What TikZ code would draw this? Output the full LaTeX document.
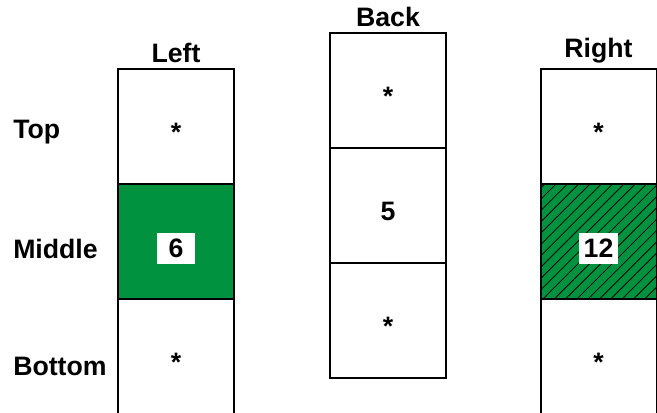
\documentclass[tikz,border=0pt]{standalone}
\usepackage{fontspec}
\setmainfont{Liberation Sans}
\usetikzlibrary{positioning,patterns.meta}
\definecolor{cellgreen}{RGB}{0,146,63}

\begin{document}
\begin{tikzpicture}[
        x=0.75pt, y=-0.75pt,
        font=\fontsize{20}{24}\selectfont\bfseries,
        cell/.style={
          draw,
          line width=1.5pt,
          outer sep=0pt,
          minimum width=87pt,
          minimum height=86.25pt,
          text height=23pt,
          text depth=0pt
        },
        greencell/.style={cell, fill=cellgreen},
        hatchcell/.style={
          cell,
          preaction={fill=cellgreen},
          pattern={Lines[angle=45,distance=6pt,line width=0.6pt]},
          pattern color=black
        },
        numbox/.style={
          fill=white,
          inner sep=0pt,
          minimum width=29pt,
          minimum height=23pt
        },
        rowlabel/.style={anchor=base west, inner sep=0pt},
        colhead/.style={inner sep=0pt}
      ]
      \clip (0,0) rectangle (657,412);

      % Left column
      \node[cell]                    (left1) at (176,126.5) {*};
      \node[greencell,below=0pt of left1] (left2) {};
      \node[cell,below=0pt of left2] (left3) {*};
      \node[numbox] (num6) at ([yshift=-5.25pt]left2.center) {6};
      \node[colhead,above=4.5pt of left1] (hdLeft) {Left};

      % Back column
      \node[cell]                    (back1) at (388,90.5) {*};
      \node[cell,below=0pt of back1] (back2) {5};
      \node[cell,below=0pt of back2] (back3) {*};
      \node[colhead,above=4.5pt of back1] (hdBack) {Back};

      % Right column
      \node[cell]                    (right1) at (598.5,126.5) {*};
      \node[hatchcell,below=0pt of right1] (right2) {};
      \node[cell,below=0pt of right2] (right3) {*};
      \node[numbox] (num12) at ([yshift=-5.25pt]right2.center) {12};
      \node[colhead,above=4.5pt of right1] (hdRight) {Right};

      % Row labels
      \node[rowlabel] (rowTop) at (13,138) {Top};
      \node[rowlabel] (rowMid) at (13,258) {Middle};
      \node[rowlabel] (rowBot) at (13,375) {Bottom};

\end{tikzpicture}
\end{document}
